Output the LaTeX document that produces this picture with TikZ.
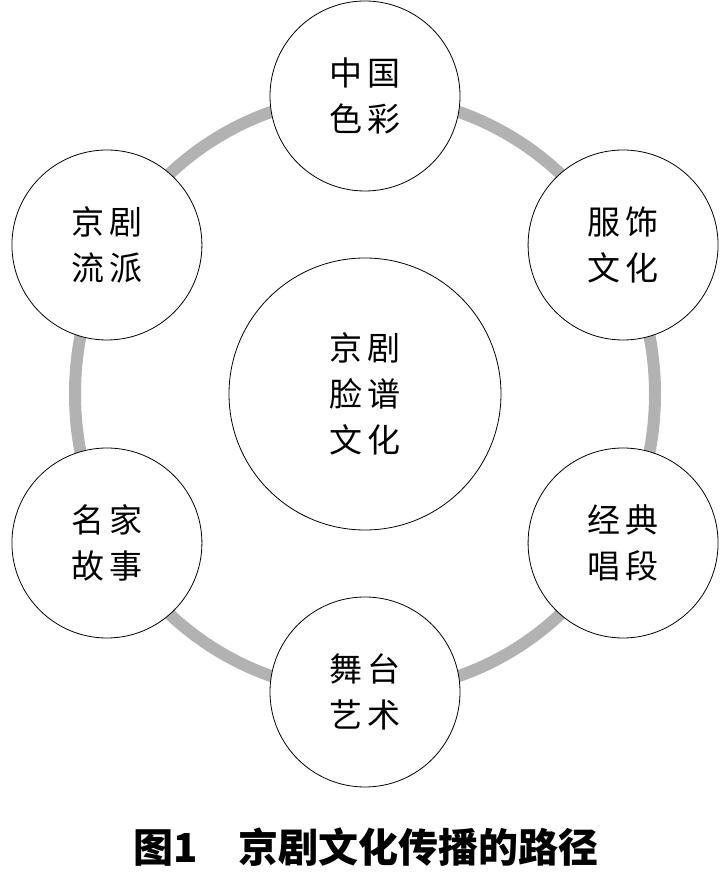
\documentclass[tikz,border=0pt]{standalone}
\usepackage{fontspec}
\setmainfont{Noto Sans CJK SC}
\usetikzlibrary{positioning,calc}
\newcommand{\jg}{\hspace{0.15em}}
\tikzset{
    topicbox/.style={
        circle,
        draw,
        fill=white,
        line width=0.8pt,
        minimum size=190pt,
        inner sep=0pt,
        align=center,
        font=\fontsize{33}{46}\selectfont
    },
    centrebox/.style={
        topicbox,
        minimum size=272pt
    },
    ring/.style={
        draw=black!30,
        line width=12pt
    },
    capt/.style={font=\bfseries\fontsize{40}{44}\selectfont}
}

\begin{document}
\begin{tikzpicture}[x=1pt, y=1pt]

\useasboundingbox (0,0) rectangle (727,873);

\coordinate (hub) at (365,479);

% ring behind the circles
\draw[ring] (hub) ellipse [x radius=290, y radius=298];

\node[centrebox] (core) at (hub) {京\jg 剧\\脸\jg 谱\\文\jg 化};

\node[topicbox] (colour)  at ($(hub)+(90:298)$)  {中\jg 国\\色\jg 彩};
\node[topicbox] (costume) at ($(hub)+(30:298)$)  {服\jg 饰\\文\jg 化};
\node[topicbox] (aria)    at ($(hub)+(-30:298)$) {经\jg 典\\唱\jg 段};
\node[topicbox] (stage)   at ($(hub)+(-90:298)$) {舞\jg 台\\艺\jg 术};
\node[topicbox] (masters) at ($(hub)+(-150:298)$) {名\jg 家\\故\jg 事};
\node[topicbox] (schools) at ($(hub)+(150:298)$) {京\jg 剧\\流\jg 派};

\node[capt] (caption) at (366,26) {图1　京剧文化传播的路径};

\end{tikzpicture}
\end{document}
